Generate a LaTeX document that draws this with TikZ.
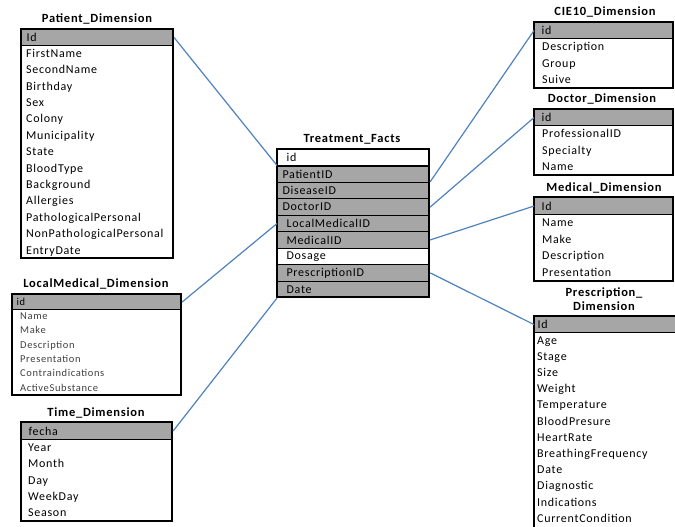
\documentclass[tikz,border=0pt]{standalone}
\usepackage{fontspec}
\setmainfont{Carlito}[LetterSpace=6]
\usepackage{tikz}
\usetikzlibrary{positioning}

\definecolor{keygray}{RGB}{166,166,166}
\definecolor{linkblue}{RGB}{79,129,189}

\tikzset{
	tabtitle/.style={font=\fontsize{12.5}{15}\selectfont\bfseries, inner sep=0pt, align=center},
	tabframe/.style={draw=black, line width=1.1pt},
	keyrow/.style={draw=black, line width=1.1pt, fill=keygray, anchor=north west,
		inner xsep=0pt, inner ysep=0pt, text width=#1, align=left},
	attrow/.style={anchor=base west, inner sep=0pt},
	link/.style={draw=linkblue, line width=1.2pt},
}

\begin{document}
\begin{tikzpicture}[x=1pt,y=-1pt]
	
	\useasboundingbox (0,0) rectangle (675,527);
	\clip (0,0) rectangle (675,527);
	
	% Left side: patient, local medical, time
	\node[tabtitle] (pat-title) at (97,19) {Patient\_Dimension};
	\node[keyrow=152pt, minimum height=16pt, font=\fontsize{12}{13}\selectfont] (pat-id) at (21,29) {\hspace*{5pt}Id};
	\foreach \t [count=\i] in {FirstName, SecondName, Birthday, Sex, Colony, Municipality, State,
		BloodType, Background, Allergies, PathologicalPersonal, NonPathologicalPersonal, EntryDate}
		\node[attrow, font=\fontsize{12}{13}\selectfont] (pat-r\i) at ({26},{45+16.4*(\i-0.5)+4}) {\t};
	\draw[tabframe] (21,29) rectangle (173,258);
	
	\node[tabtitle] (lm-title) at (96,284) {LocalMedical\_Dimension};
	\node[keyrow=169pt, minimum height=15pt, font=\fontsize{10.5}{12}\selectfont] (lm-id) at (12,294) {\hspace*{4pt}id};
	\foreach \t [count=\i] in {Name, Make, Description, Presentation, Contraindications, ActiveSubstance}
		\node[attrow, text=black!75, font=\fontsize{10.5}{12}\selectfont] (lm-r\i) at ({20},{309+14.3*(\i-0.5)+3.5}) {\t};
	\draw[tabframe] (12,294) rectangle (181,395);
	
	\node[tabtitle] (time-title) at (96,413) {Time\_Dimension};
	\node[keyrow=151pt, minimum height=17pt, font=\fontsize{12}{13}\selectfont] (time-id) at (21,422) {\hspace*{7pt}fecha};
	\foreach \t [count=\i] in {Year, Month, Day, WeekDay, Season}
		\node[attrow, font=\fontsize{12}{13}\selectfont] (time-r\i) at ({28},{439+16.4*(\i-0.5)+4}) {\t};
	\draw[tabframe] (21,422) rectangle (172,521);
	
	% Fact table in the middle
	\node[tabtitle] (tf-title) at (352,139) {Treatment\_Facts};
	\foreach \n/\t/\f/\s [count=\i] in {id/id/white/9, patient/PatientID/keygray/5,
		disease/DiseaseID/keygray/5, doctor/DoctorID/keygray/5, local/LocalMedicalID/keygray/9,
		medical/MedicalID/keygray/9, dosage/Dosage/white/9, prescr/PrescriptionID/keygray/9,
		date/Date/keygray/9}
		\node[keyrow=152pt, fill=\f, minimum height=16.44pt, font=\fontsize{12}{13}\selectfont]
			(tf-\n) at ({277},{149+16.44*(\i-1)}) {\hspace*{\s pt}\t};
	\draw[tabframe] (277,149) rectangle (429,297);
	
	% Right side: CIE10, doctor, medical, prescription
	\node[tabtitle] (cie-title) at (605,12) {CIE10\_Dimension};
	\node[keyrow=139pt, minimum height=16pt, font=\fontsize{12}{13}\selectfont] (cie-id) at (534,22) {\hspace*{7pt}id};
	\foreach \t [count=\i] in {Description, Group, Suive}
		\node[attrow, font=\fontsize{12}{13}\selectfont] (cie-r\i) at ({542},{38+16.7*(\i-0.5)+4}) {\t};
	\draw[tabframe] (534,22) rectangle (673,88);
	
	\node[tabtitle] (doc-title) at (602,99) {Doctor\_Dimension};
	\node[keyrow=139pt, minimum height=16pt, font=\fontsize{12}{13}\selectfont] (doc-id) at (534,109) {\hspace*{7pt}id};
	\foreach \t [count=\i] in {ProfessionalID, Specialty, Name}
		\node[attrow, font=\fontsize{12}{13}\selectfont] (doc-r\i) at ({542},{125+16.7*(\i-0.5)+4}) {\t};
	\draw[tabframe] (534,109) rectangle (673,175);
	
	\node[tabtitle] (med-title) at (604,188) {Medical\_Dimension};
	\node[keyrow=139pt, minimum height=17pt, font=\fontsize{12}{13}\selectfont] (med-id) at (534,197) {\hspace*{7pt}Id};
	\foreach \t [count=\i] in {Name, Make, Description, Presentation}
		\node[attrow, font=\fontsize{12}{13}\selectfont] (med-r\i) at ({542},{214+16.75*(\i-0.5)+4}) {\t};
	\draw[tabframe] (534,197) rectangle (673,281);
	
	\node[tabtitle] (pre-title) at (604,299) {Prescription\_\\[-1pt]Dimension};
	\node[keyrow=150pt, minimum height=16pt, font=\fontsize{12}{13}\selectfont] (pre-id) at (534,316) {\hspace*{3pt}Id};
	\foreach \t [count=\i] in {Age, Stage, Size, Weight, Temperature, BloodPresure, HeartRate,
		BreathingFrequency, Date, Diagnostic, Indications, CurrentCondition}
		\node[attrow, font=\fontsize{12}{13}\selectfont] (pre-r\i) at ({537},{332+16.2*(\i-0.5)+4}) {\t};
	\draw[tabframe] (690,316) -- (534,316) -- (534,540);
	
	% Links between the keys
	\draw[link] (pat-id.east) -- (tf-patient.north west);
	\draw[link] (lm-id.east) -- (tf-local.west);
	\draw[link] (time-id.east) -- (tf-date.south west);
	\draw[link] (tf-disease.north east) -- (cie-id.west);
	\draw[link] (tf-doctor.east) -- (doc-id.west);
	\draw[link] (tf-medical.east) -- (med-id.west);
	\draw[link] (tf-prescr.east) -- (pre-id.west);
	
\end{tikzpicture}
\end{document}
